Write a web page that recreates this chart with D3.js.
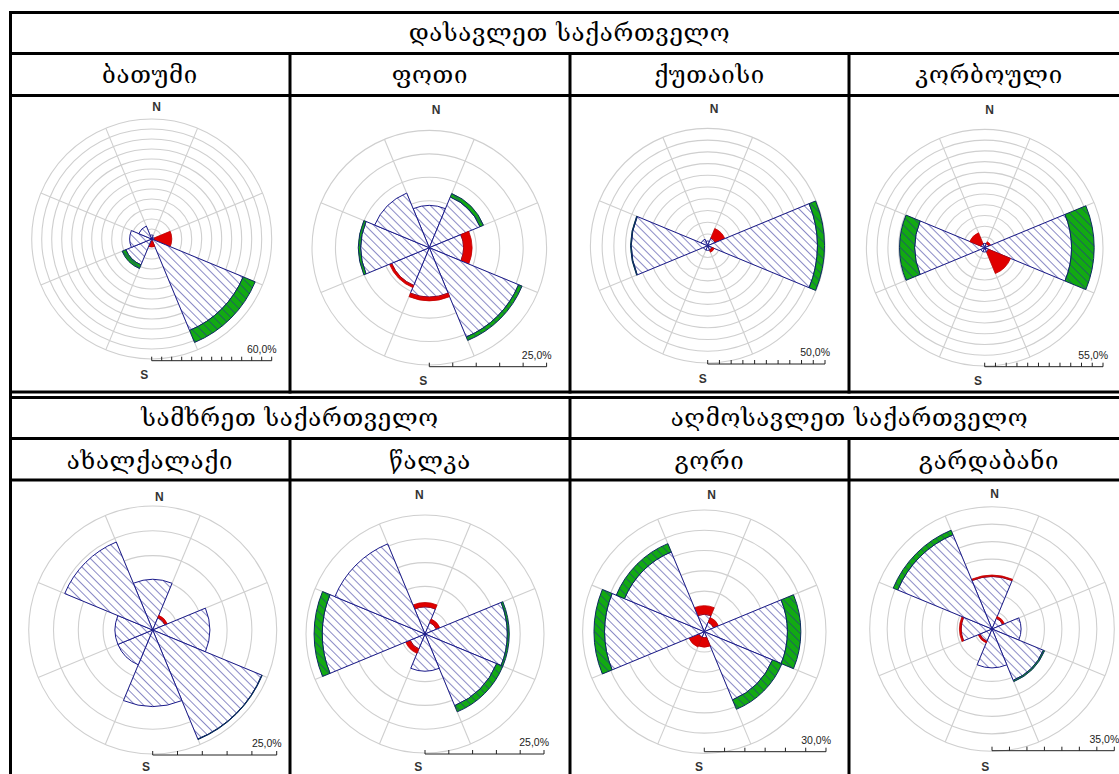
<!DOCTYPE html>
<html><head><meta charset="utf-8">
<script src="https://cdn.jsdelivr.net/npm/d3@7"></script>
<style>body{margin:0;background:#fff}svg{display:block}</style>
</head><body>
<svg id="chart" width="1119" height="774"></svg>
<script>
// Wind direction sectors, clockwise from north
const directions = ["N", "NE", "E", "SE", "S", "SW", "W", "NW"];
const regions = ["დასავლეთ საქართველო", "სამხრეთ საქართველო", "აღმოსავლეთ საქართველო"];
const stations = ["ბათუმი", "ფოთი", "ქუთაისი", "კორბოული", "ახალქალაქი", "წალკა", "გორი", "გარდაბანი"];
// Outer ring value of each rose (%), rings every 5 %
const scaleMax = [60, 25, 50, 55, 25, 25, 30, 35];
const scaleLabels = ["60,0%", "25,0%", "50,0%", "55,0%", "25,0%", "25,0%", "30,0%", "35,0%"];
// Hatched (inner) part of each sector, % (N, NE, E, SE, S, SW, W, NW)
const hatched = [
  [2.0, 1.0, 1.5, 49.5, 1.0, 14.0, 11.0, 7.0],
  [9.0, 11.7, 7.3, 20.6, 10.5, 8.7, 14.6, 12.6],
  [2.0, 3.5, 46.8, 2.0, 2.0, 2.0, 32.5, 3.0],
  [2.0, 2.0, 40.4, 2.0, 2.0, 2.0, 32.5, 2.0],
  [10.2, 2.7, 11.5, 23.8, 15.4, 7.6, 7.6, 19.2],
  [5.7, 2.6, 17.3, 16.3, 7.8, 3.4, 21.6, 20.5],
  [4.3, 2.5, 20.5, 18.2, 1.5, 1.5, 24.6, 21.3],
  [15.0, 3.3, 8.3, 15.9, 11.1, 3.8, 8.8, 29.2]
];
// Red band stacked on the hatched part, %
const redBand = [
  [0, 0, 8.5, 0, 3.0, 0, 0, 0],
  [0, 0, 1.8, 0, 0.8, 0.5, 0, 0],
  [0, 4.4, 0, 1.0, 0, 0, 0, 0],
  [0, 1.0, 0, 11.0, 0, 0, 0, 5.5],
  [0, 0.5, 0, 0, 0, 0, 0, 0],
  [0.9, 0.8, 0, 0, 0, 1.0, 0, 0],
  [2.1, 1.3, 0, 0, 2.3, 2.6, 0, 0],
  [0.4, 0.6, 0, 0, 0, 0.5, 0.5, 0]
];
// Green band stacked outermost, %
const greenBand = [
  [0, 0, 0, 6.5, 0, 2.0, 0, 0],
  [0, 0.8, 0, 0.8, 0, 0, 0.5, 0],
  [0, 0, 3.0, 0, 0, 0, 0.3, 0],
  [0, 0, 10.5, 0, 0, 0, 7.1, 0],
  [0, 0, 0, 0.1, 0, 0, 0, 0],
  [0, 0, 0.4, 1.4, 0, 0, 1.7, 0],
  [0, 0, 3.3, 2.5, 0, 0, 2.6, 2.2],
  [0, 0, 0, 0.4, 0, 0, 0, 1.4]
];

// Panel geometry: rose centre, outer radius, label and scale-bar placement
const layout = [
  {cx: 151.7, cy: 239.0, r: 120, nx: 156.7, ny: 111, sx: 144.3, sy: 379, barY: 360.7},
  {cx: 429.3, cy: 247.7, r: 117.3, nx: 436, ny: 114, sx: 423.3, sy: 385, barY: 366.7},
  {cx: 707.7, cy: 245.7, r: 117.3, nx: 714, ny: 113, sx: 702.7, sy: 383, barY: 364},
  {cx: 984.7, cy: 247.7, r: 118.3, nx: 989.7, ny: 114, sx: 978, sy: 385, barY: 366.7},
  {cx: 152.7, cy: 630.0, r: 124, nx: 159.3, ny: 501, sx: 146, sy: 771, barY: 755},
  {cx: 425.0, cy: 634.0, r: 119, nx: 419.3, ny: 499, sx: 418.3, sy: 771, barY: 754},
  {cx: 704.3, cy: 631.7, r: 121.7, nx: 711.7, ny: 499, sx: 699, sy: 771, barY: 751.7},
  {cx: 992.0, cy: 629.0, r: 122.3, nx: 994.7, ny: 498, sx: 985.3, sy: 771, barY: 750.7}
];

const svg = d3.select("#chart");
const defs = svg.append("defs");
defs.append("pattern")
  .attr("id", "hatch").attr("patternUnits", "userSpaceOnUse")
  .attr("width", 6).attr("height", 6)
  .attr("patternTransform", "rotate(-45)")
  .append("line")
  .attr("x1", 0).attr("y1", 0).attr("x2", 0).attr("y2", 6)
  .attr("stroke", "#2a2a96").attr("stroke-width", 1.1);

const rad = d => d * Math.PI / 180;
const arc = d3.arc();

function drawRose(k) {
  const L = layout[k];
  const max = scaleMax[k];
  const r = d3.scaleLinear().domain([0, max]).range([0, L.r]);
  const g = svg.append("g").attr("transform", `translate(${L.cx},${L.cy})`);

  g.selectAll("circle.ring").data(d3.range(5, max + 0.01, 5)).join("circle")
    .attr("class", "ring").attr("r", d => r(d))
    .attr("fill", "none").attr("stroke", "#cfcfcf").attr("stroke-width", 1.1);

  g.selectAll("line.spoke").data(d3.range(8)).join("line")
    .attr("class", "spoke")
    .attr("x1", 0).attr("y1", 0)
    .attr("x2", i => r(max) * Math.sin(rad(22.5 + 45 * i)))
    .attr("y2", i => -r(max) * Math.cos(rad(22.5 + 45 * i)))
    .attr("stroke", "#cfcfcf").attr("stroke-width", 1.1);

  directions.forEach((dir, j) => {
    const a0 = rad(j * 45 - 22.5), a1 = rad(j * 45 + 22.5);
    const h = hatched[k][j], rd = redBand[k][j], gr = greenBand[k][j];
    const hatchArc = arc({innerRadius: 0, outerRadius: r(h), startAngle: a0, endAngle: a1});
    g.append("path").attr("d", hatchArc).attr("fill", "#fff");
    g.append("path").attr("d", hatchArc).attr("fill", "url(#hatch)")
      .attr("stroke", "#1a1a8a").attr("stroke-width", 1);
    if (rd > 0) {
      g.append("path")
        .attr("d", arc({innerRadius: r(h), outerRadius: r(h + rd), startAngle: a0, endAngle: a1}))
        .attr("fill", "#e00000").attr("stroke", "#c00000").attr("stroke-width", 0.8);
    }
    if (gr > 0) {
      const ga = arc({innerRadius: r(h + rd), outerRadius: r(h + rd + gr), startAngle: a0, endAngle: a1});
      g.append("path").attr("d", ga).attr("fill", "#12aa12");
      g.append("path").attr("d", ga).attr("fill", "url(#hatch)")
        .attr("stroke", "#0d2a60").attr("stroke-width", 1);
    }
  });

  svg.append("text").attr("x", L.nx).attr("y", L.ny).attr("text-anchor", "middle")
    .attr("font-family", "Liberation Sans, Arial, sans-serif").attr("font-size", 12).attr("font-weight", "bold")
    .attr("fill", "#333").text("N");
  svg.append("text").attr("x", L.sx).attr("y", L.sy).attr("text-anchor", "middle")
    .attr("font-family", "Liberation Sans, Arial, sans-serif").attr("font-size", 12).attr("font-weight", "bold")
    .attr("fill", "#333").text("S");

  // scale bar: one tick every 5 %
  const bar = svg.append("g").attr("transform", `translate(${L.cx},${L.barY})`);
  bar.append("line").attr("x1", 0).attr("x2", r(max)).attr("stroke", "#222");
  bar.selectAll("line.tick").data(d3.range(0, max + 0.01, 5)).join("line")
    .attr("class", "tick").attr("x1", d => r(d)).attr("x2", d => r(d))
    .attr("y1", 0).attr("y2", -4).attr("stroke", "#222");
  bar.append("text").attr("x", r(max) + 5).attr("y", -8).attr("text-anchor", "end")
    .attr("font-family", "Liberation Sans, Arial, sans-serif").attr("font-size", 10.5)
    .attr("fill", "#222").text(scaleLabels[k]);
}

d3.range(8).forEach(drawRose);

// Table grid
const colX = [10, 290, 570, 849, 1129];
const tableLines = svg.append("g").attr("stroke", "#000").attr("stroke-width", 3);
function hline(y, x1, x2) { tableLines.append("line").attr("x1", x1).attr("x2", x2).attr("y1", y).attr("y2", y); }
function vline(x, y1, y2) { tableLines.append("line").attr("x1", x).attr("x2", x).attr("y1", y1).attr("y2", y2); }
[12.5, 53.5, 95.5, 392].forEach(y => hline(y, 10, 1129));
[397.5, 438.5, 480].forEach(y => hline(y, 10, 1129));
vline(10.5, 11, 800);
[290, 570, 849].forEach(x => { vline(x, 52, 393.5); vline(x, 437, 800); });
vline(570, 396, 440);

const textFont = "DejaVu Serif, DejaVu Sans, serif";
function cellText(x, y, t) {
  svg.append("text").attr("x", x).attr("y", y).attr("text-anchor", "middle")
    .attr("font-family", textFont).attr("font-size", 24).attr("letter-spacing", 0.7)
    .attr("fill", "#000").text(t);
}
cellText((colX[0] + colX[4]) / 2, 41, regions[0]);
cellText((colX[0] + colX[2]) / 2, 426, regions[1]);
cellText((colX[2] + colX[4]) / 2, 426, regions[2]);
stations.forEach((s, i) => {
  const c = i % 4;
  cellText((colX[c] + colX[c + 1]) / 2, i < 4 ? 83 : 469, s);
});
</script>
</body></html>
